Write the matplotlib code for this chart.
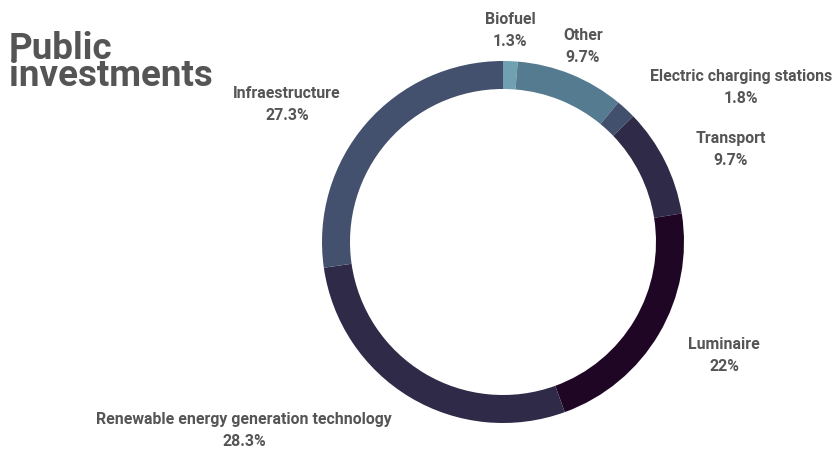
import matplotlib.pyplot as plt

# Share of public investments by category, clockwise from 12 o'clock
categories = ['Biofuel', 'Other', 'Electric charging stations', 'Transport',
              'Luminaire', 'Renewable energy generation technology', 'Infraestructure']
shares = [1.3, 9.7, 1.8, 9.7, 22, 28.3, 27.3]
share_labels = ['1.3%', '9.7%', '1.8%', '9.7%', '22%', '28.3%', '27.3%']

colors = ['#6fa1b0', '#557b91', '#42506e', '#2e2a47', '#1e0624', '#2e2a47', '#43506e']

# label anchors in pixels (x centre, baseline of the name line, from the top)
label_pos = [(510, 24), (583, 40), (741, 81), (731, 143), (724, 349), (244, 424), (287, 98)]

W, H = 834, 449
fig = plt.figure(figsize=(W / 100, H / 100), dpi=100)
ax = fig.add_axes([0, 0, 1, 1])

ax.pie(shares, colors=colors, startangle=90, counterclock=False,
       center=(503, H - 242), radius=181,
       wedgeprops=dict(width=28, linewidth=0))

ax.set_xlim(0, W)
ax.set_ylim(0, H)
ax.set_aspect('equal')
ax.axis('off')

txt = dict(family='Roboto', weight='bold', color='#555555', fontsize=11.4,
           ha='center', va='baseline')
for name, lab, (x, y) in zip(categories, share_labels, label_pos):
    ax.text(x, H - y, name, **txt)
    ax.text(x, H - y - 22, lab, **txt)

# two-line title, top left, tight line height (baseline is the last line's)
ax.text(9, H - 86, 'Public\ninvestments', family='Roboto', weight='bold',
        color='#555555', fontsize=26.5, ha='left', va='baseline',
        linespacing=0.68)

fig.savefig('out.png', dpi=100)
